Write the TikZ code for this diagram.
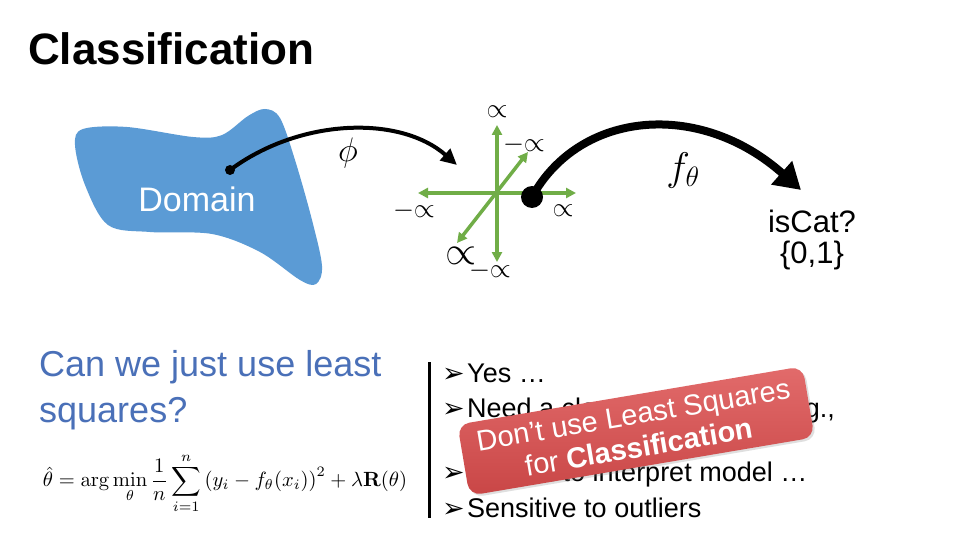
\RequirePackage{fix-cm}
\documentclass[tikz,border=0pt]{standalone}
\usepackage{amsmath}
\usepackage{graphicx}
\usepackage[no-math]{fontspec}
\setmainfont{Liberation Sans}
\newfontfamily\symfont{DejaVu Sans}
\usetikzlibrary{arrows.meta,shadows}
\definecolor{blobblue}{HTML}{5B9BD5}
\definecolor{axgreen}{HTML}{70AD47}
\definecolor{txtblue}{RGB}{74,112,184}
\definecolor{boxtop}{HTML}{E26B6B}
\definecolor{boxbot}{HTML}{C94646}
\tikzset{
  axarrow/.style={draw=axgreen, line width=3.5pt, {Triangle[length=10pt,width=10pt]}-{Triangle[length=10pt,width=10pt]}},
  inflab/.style={inner sep=0pt, font=\fontsize{27}{27}\selectfont},
  bullet/.style={anchor=base west, inner sep=0pt, font=\fontsize{27}{30}\selectfont},
  qtext/.style={anchor=base west, inner sep=0pt, text=txtblue, font=\fontsize{36}{47}\selectfont},
}
\newcommand{\bul}{\makebox[25pt][l]{\symfont\fontsize{27}{27}\selectfont ➢}}
\newcommand{\ninf}{$-\mathord{\propto}$}
\begin{document}
\begin{tikzpicture}[x=1pt,y=-1pt]
\useasboundingbox[fill=white] (0,0) rectangle (960,540);

% title
\node[anchor=base west, inner sep=0pt, font=\fontsize{44}{48}\selectfont\bfseries] (title) at (28,65) {Classification};

% blob
\fill[blobblue] plot[smooth cycle, tension=0.55] coordinates {
 (83,129) (127,127) (193,137) (222,135) (248,116) (265,109) (280,118)
 (295,160) (312,220) (322,266) (316,284) (300,280) (260,252) (212,234)
 (150,232) (108,225) (85,185) (75,145)};
\node[white, inner sep=0pt, font=\fontsize{34}{34}\selectfont] (domain) at (197,199) {Domain};

% phi arrow
\node[circle, fill=black, inner sep=0pt, minimum size=10pt] (d1) at (230,170) {};
\coordinate (p1) at (457,165);
\draw[line width=4pt, -{Triangle[length=16pt,width=15pt]}] (d1.center) .. controls (300,118) and (400,115) .. (p1);
\node[inner sep=0pt, font=\fontsize{34}{34}\selectfont] (phi) at (348,153) {$\phi$};

% axes
\coordinate (c) at (497,193);
\coordinate (at) at (497,125);
\coordinate (ab) at (497,262);
\coordinate (al) at (418,193);
\coordinate (ar) at (576,193);
\coordinate (aur) at (528,152);
\coordinate (all) at (457,243);
\draw[axarrow] (ab) -- (at);
\draw[axarrow] (al) -- (ar);
\draw[axarrow] (all) -- (aur);
\node[inflab] (l1) at (497,112) {$\propto$};
\node[inflab] (l2) at (524,145) {\ninf};
\node[inflab] (l3) at (414,211) {\ninf};
\node[inflab] (l4) at (563,211) {$\propto$};
\node[inflab, font=\fontsize{40}{40}\selectfont] (l5) at (461,256) {$\propto$};
\node[inflab] (l6) at (490,271) {\ninf};

% f theta arrow
\node[circle, fill=black, inner sep=0pt, minimum size=22pt] (d2) at (532,197) {};
\coordinate (p2) at (801,190);
\draw[line width=8pt, -{Triangle[length=26pt,width=30pt]}] (d2.center) .. controls (580,110) and (700,100) .. (p2);
\node[inner sep=0pt, font=\fontsize{40}{40}\selectfont] (ft) at (683,170) {$f_\theta$};

\node[inner sep=0pt, font=\fontsize{31}{31}\selectfont] (iscat) at (812,221) {isCat?};
\node[inner sep=0pt, font=\fontsize{31}{31}\selectfont] (set) at (812,255) {\{0,1\}};

% question
\node[qtext] (q1) at (39,376) {Can we just use least};
\node[qtext] (q2) at (39,422) {squares?};

% formula
\node[inner sep=0pt] (formula) at (225,483) {\resizebox{364pt}{!}{$\displaystyle \hat{\theta} = \arg\min_{\theta}\frac{1}{n}\sum_{i=1}^{n}\left(y_i - f_\theta(x_i)\right)^2 + \lambda\mathbf{R}(\theta)$}};

% bullet list
\coordinate (vt) at (429,362);
\coordinate (vb) at (429,518);
\draw[line width=3pt] (vt) -- (vb);
\node[bullet] (b1) at (442,382) {\bul Yes …};
\node[bullet] (b2) at (442,417) {\bul Need a classification rule, e.g.,};
\node[bullet] (b2b) at (467,450) {threshold at 0.5};
\node[bullet] (b3) at (442,481) {\bul Difficult to interpret model …};
\node[bullet] (b4) at (442,517) {\bul Sensitive to outliers};

% red note
\node[rotate=9.6, rounded corners=12pt, minimum width=350pt, minimum height=72pt,
  top color=boxtop, bottom color=boxbot, draw=none, text=white, align=center,
  inner sep=0pt, font=\fontsize{29}{33}\selectfont,
  drop shadow={opacity=0.25, shadow xshift=2pt, shadow yshift=-2pt}] (note) at (636,431)
  {Don't use Least Squares\\for \textbf{Classification}};
\end{tikzpicture}
\end{document}
